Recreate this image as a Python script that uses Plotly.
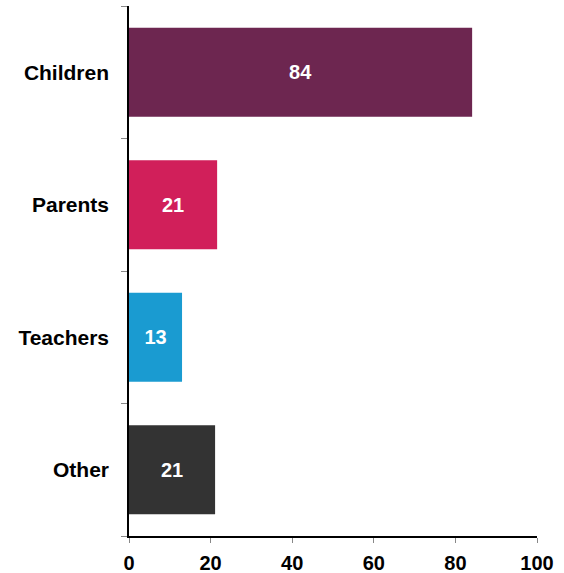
import plotly.graph_objects as go

categories = ["Children", "Parents", "Teachers", "Other"]
values = [84.1, 21.6, 13.0, 21.1]
value_labels = ["84", "21", "13", "21"]
colors = ["#6d2650", "#d11f5a", "#1a9bd1", "#333333"]
x_ticks = [0, 20, 40, 60, 80, 100]

font_family = "Arial, 'Liberation Sans', sans-serif"

fig = go.Figure(
    go.Bar(
        y=categories,
        x=values,
        orientation="h",
        marker=dict(color=colors, line=dict(width=0)),
        text=value_labels,
        textposition="inside",
        insidetextanchor="middle",
        textfont=dict(color="white", size=20, family=font_family, weight="bold"),
        width=0.67,
        hoverinfo="skip",
    )
)

fig.update_layout(
    width=564,
    height=573,
    margin=dict(l=129, r=27, t=6, b=37),
    paper_bgcolor="white",
    plot_bgcolor="white",
    showlegend=False,
    font=dict(family=font_family, color="black"),
)

fig.update_xaxes(
    range=[0, 100],
    tickvals=x_ticks,
    ticktext=[str(t) for t in x_ticks],
    showgrid=False,
    zeroline=False,
    showline=True,
    linecolor="black",
    linewidth=1.5,
    ticks="outside",
    ticklen=5,
    tickcolor="#888888",
    tickwidth=1,
    ticklabelstandoff=3,
    automargin=False,
    tickfont=dict(size=20, family=font_family, weight="bold", color="black"),
    fixedrange=True,
)

fig.update_yaxes(
    categoryorder="array",
    categoryarray=categories[::-1],
    autorange=False,
    range=[-0.5, 3.5],
    showgrid=False,
    zeroline=False,
    showline=True,
    linecolor="black",
    linewidth=1.5,
    ticks="outside",
    tickson="boundaries",
    ticklen=6,
    tickcolor="#888888",
    tickwidth=1,
    ticklabelstandoff=14,
    automargin=False,
    tickfont=dict(size=21, family=font_family, weight="bold", color="black"),
    fixedrange=True,
)

fig.write_html(
    "out.html",
    config={"displayModeBar": False},
    post_script="document.body.style.margin='0';document.body.style.overflow='hidden';",
)
